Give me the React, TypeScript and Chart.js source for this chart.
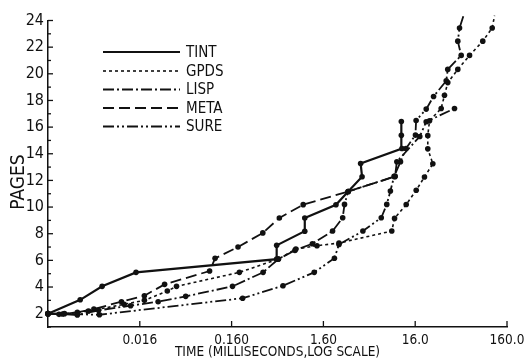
import React, { useEffect, useRef } from "react";
import { Chart, registerables } from "chart.js";

Chart.register(...registerables);

// ---- data (time in ms, pages) ----
const seriesNames = ["TINT", "GPDS", "LISP", "META", "SURE"];

const tintX = [0.0016, 0.00359, 0.00622, 0.01456, 0.4955, 0.4955, 1.003, 1.003, 2.193, 2.98, 4.22, 4.07, 11.48, 11.3, 11.3];
const tintY = [2.0, 3.04, 4.05, 5.1, 6.09, 7.13, 8.19, 9.18, 10.17, 11.17, 12.28, 13.27, 14.39, 15.38, 16.42];

const gpdsX = [0.0016, 0.00242, 0.00441, 0.0108, 0.01795, 0.0319, 0.0402, 0.1946, 0.5178, 0.802, 1.362, 2.366, 8.89, 9.53, 12.77, 16.41, 20.19, 24.9, 21.94, 21.94, 22.92, 30.7, 33.35, 36.23, 46.57, 62.53, 87.12, 110.4, 117.0];
const gpdsY = [2.0, 2.0, 2.2, 2.7, 3.0, 3.7, 4.05, 5.1, 6.1, 6.85, 7.1, 7.3, 8.2, 9.15, 10.19, 11.26, 12.26, 13.25, 14.37, 15.36, 16.48, 17.4, 18.39, 19.34, 20.33, 21.38, 22.45, 23.44, 24.36];

const lispX = [0.0016, 0.00231, 0.00334, 0.00568, 0.0127, 0.02536, 0.0506, 0.1637, 0.3525, 0.5178, 0.784, 1.214, 2.014, 2.595, 2.717, 2.98, 9.64, 10.1, 17.95, 21.09, 42.87];
const lispY = [2.0, 1.97, 1.9, 2.25, 2.6, 2.9, 3.3, 4.05, 5.1, 6.1, 6.75, 7.25, 8.2, 9.2, 10.2, 11.17, 12.3, 13.4, 15.3, 16.4, 17.4];

const metaX = [0.0016, 0.00211, 0.00334, 0.00506, 0.0101, 0.01795, 0.0298, 0.0921, 0.1057, 0.188, 0.35, 0.53, 0.964, 2.98, 9.64];
const metaY = [2.0, 1.95, 2.1, 2.35, 2.9, 3.35, 4.2, 5.2, 6.15, 7.0, 8.06, 9.18, 10.18, 11.17, 12.3];

const sureX = [0.0016, 0.00581, 0.211, 0.581, 1.271, 2.109, 2.366, 4.31, 6.83, 7.84, 8.59, 9.42, 11.07, 12.71, 16.1, 16.37, 21.09, 25.36, 34.84, 36.23, 50.71, 46.57, 48.65, 53.72];
const sureY = [2.0, 1.92, 3.16, 4.1, 5.1, 6.16, 7.2, 8.2, 9.2, 10.2, 11.2, 12.3, 13.4, 14.4, 15.4, 16.5, 17.35, 18.3, 19.47, 20.33, 21.38, 22.45, 23.44, 24.36];

const xTickValues = [0.016, 0.16, 1.6, 16, 160];
const xTickLabels = ["0.016", "0.160", "1.60", "16.0", "160.0"];
const yTickValues = [2, 4, 6, 8, 10, 12, 14, 16, 18, 20, 22, 24];
const yMinorTicks = [1, 3, 5, 7, 9, 11, 13, 15, 17, 19, 21, 23];
const yTitle = "PAGES";
const xTitle = "TIME (MILLISECONDS,LOG SCALE)";

const INK = "#111111";
const FONT = "'Liberation Sans Narrow', 'DejaVu Sans Condensed', 'Arial Narrow', sans-serif";

const toPts = (xs: number[], ys: number[]) => xs.map((x, i) => ({ x, y: ys[i] }));

const styles = [
  { dash: [] as number[], width: 2.2 },
  { dash: [3, 3], width: 1.6 },
  { dash: [11, 3, 2, 3], width: 1.8 },
  { dash: [11, 5], width: 1.8 },
  { dash: [11, 3, 2, 3, 2, 3], width: 1.8 },
];

const decorPlugin = {
  id: "decor",
  afterDraw(chart: any) {
    const ctx = chart.ctx as CanvasRenderingContext2D;
    const xs = chart.scales.x;
    const ys = chart.scales.y;
    ctx.save();
    ctx.strokeStyle = INK;
    ctx.lineWidth = 1.3;
    ctx.setLineDash([]);
    const seg = (x1: number, y1: number, x2: number, y2: number) => {
      ctx.beginPath();
      ctx.moveTo(x1, y1);
      ctx.lineTo(x2, y2);
      ctx.stroke();
    };
    yTickValues.forEach((v) => {
      const py = ys.getPixelForValue(v);
      seg(xs.left, py, xs.left + 5, py);
    });
    yMinorTicks.forEach((v) => {
      const py = ys.getPixelForValue(v);
      seg(xs.left, py, xs.left + 3, py);
    });
    xTickValues.forEach((v) => {
      const px = xs.getPixelForValue(v);
      seg(px, ys.bottom, px, ys.bottom - 6);
    });
    // legend
    const rows = [52, 71, 89.5, 108, 126.5];
    chart.data.datasets.forEach((ds: any, i: number) => {
      const yy = rows[i];
      ctx.setLineDash(ds.borderDash || []);
      ctx.lineWidth = ds.borderWidth;
      seg(103, yy, 180, yy);
      ctx.setLineDash([]);
      ctx.fillStyle = INK;
      ctx.font = `15px ${FONT}`;
      ctx.textBaseline = "middle";
      ctx.textAlign = "left";
      ctx.fillText(ds.label, 186, yy + 1);
    });
    // y axis title
    ctx.save();
    ctx.translate(19, 182);
    ctx.rotate(-Math.PI / 2);
    ctx.font = `19px ${FONT}`;
    ctx.textAlign = "center";
    ctx.textBaseline = "middle";
    ctx.fillStyle = INK;
    ctx.fillText(yTitle, 0, 0);
    ctx.restore();
    ctx.restore();
  },
};

export default function App() {
  const ref = useRef<HTMLCanvasElement | null>(null);
  useEffect(() => {
    if (!ref.current) return;
    const series = [
      toPts(tintX, tintY),
      toPts(gpdsX, gpdsY),
      toPts(lispX, lispY),
      toPts(metaX, metaY),
      toPts(sureX, sureY),
    ];
    const chart = new Chart(ref.current, {
      type: "line",
      data: {
        datasets: series.map((pts, i) => ({
          label: seriesNames[i],
          data: pts,
          borderColor: INK,
          borderWidth: styles[i].width,
          borderDash: styles[i].dash,
          pointRadius: 2.8,
          pointBackgroundColor: INK,
          pointBorderWidth: 0,
          tension: 0,
          clip: false as any,
          fill: false,
        })),
      },
      options: {
        animation: false,
        responsive: false,
        parsing: false as any,
        layout: { padding: { left: 0, right: 24, top: 20.5, bottom: 0 } },
        plugins: { legend: { display: false }, tooltip: { enabled: false } },
        scales: {
          x: {
            type: "logarithmic",
            min: 0.0016,
            max: 160,
            grid: { display: false, drawTicks: false },
            border: { display: true, color: INK, width: 1.5 },
            afterBuildTicks: (s: any) => {
              s.ticks = xTickValues.map((v) => ({ value: v }));
            },
            afterFit: (s: any) => {
              s.height = 37;
            },
            ticks: {
              autoSkip: false,
              maxRotation: 0,
              padding: 5,
              color: INK,
              font: { family: FONT, size: 13.5 },
              callback: (_v: any, i: number) => xTickLabels[i],
            },
            title: {
              display: true,
              text: xTitle,
              color: INK,
              font: { family: FONT, size: 13.5 },
              padding: { top: 0, bottom: 3 },
            },
          },
          y: {
            type: "linear",
            min: 1,
            max: 24,
            grid: { display: false, drawTicks: false },
            border: { display: true, color: INK, width: 1.5 },
            afterBuildTicks: (s: any) => {
              s.ticks = yTickValues.map((v) => ({ value: v }));
            },
            afterFit: (s: any) => {
              s.width = 48;
            },
            ticks: {
              autoSkip: false,
              padding: 4,
              color: INK,
              font: { family: FONT, size: 16 },
              callback: (v: any) => String(v),
            },
            title: { display: false },
          },
        },
      },
      plugins: [decorPlugin],
    });
    return () => chart.destroy();
  }, []);
  return (
    <div style={{ position: "fixed", left: 0, top: 0, width: 531, height: 364, background: "#fff" }}>
      <canvas ref={ref} width={531} height={364} style={{ display: "block" }} />
    </div>
  );
}
